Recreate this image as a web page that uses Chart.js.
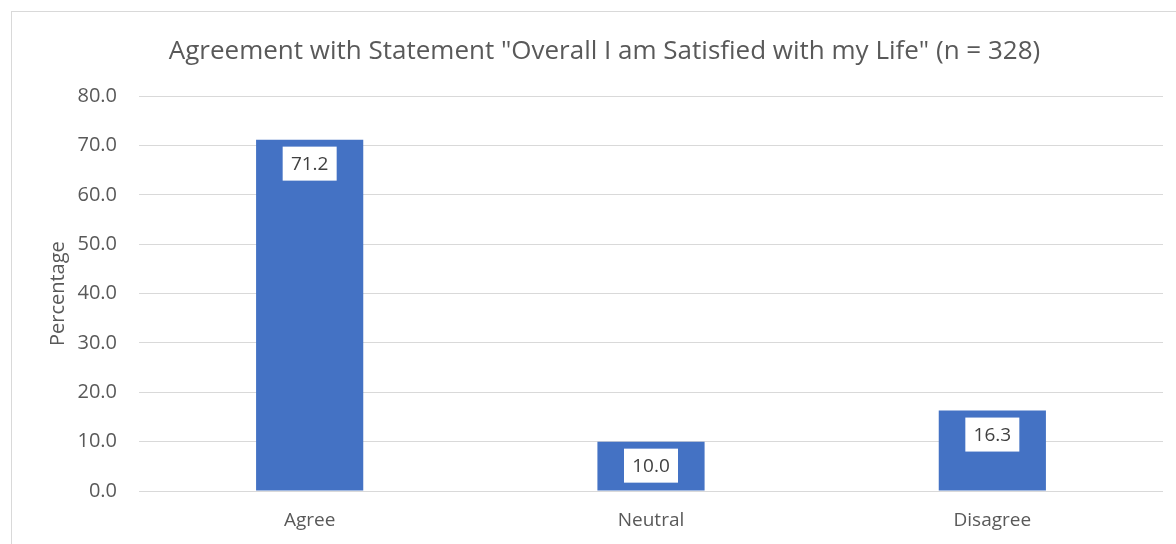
<!DOCTYPE html>
<html>
<head>
<meta charset="utf-8">
<script src="https://cdn.jsdelivr.net/npm/chart.js@4"></script>
<style>
  html, body { margin: 0; padding: 0; background: #fff; }
  #wrap { position: relative; width: 1176px; height: 544px; overflow: hidden; }
  #frame { position: absolute; left: 11px; top: 11px; width: 1200px; height: 600px; border: 1px solid #d9d9d9; }
  canvas { position: absolute; left: 0; top: 0; }
</style>
</head>
<body>
<div id="wrap">
  <div id="frame"></div>
  <canvas id="grafico" width="1176" height="544"></canvas>
</div>
<script>
const categorias = ["Agree", "Neutral", "Disagree"];
const percentuais = [71.2, 10.0, 16.3];
const titulo = 'Agreement with Statement "Overall I am Satisfied with my Life" (n = 328)';
const tituloEixoY = "Percentage";

const fonte = "'Open Sans', 'Liberation Sans', sans-serif";
const corTexto = "#595959";

// Caixinha branca com o valor dentro do topo de cada barra
const rotulosValor = {
    id: "rotulosValor",
    afterDatasetsDraw(chart) {
        const ctx = chart.ctx;
        const meta = chart.getDatasetMeta(0);
        ctx.save();
        ctx.font = "19px " + fonte;
        ctx.textAlign = "center";
        ctx.textBaseline = "middle";
        meta.data.forEach((bar, i) => {
            const texto = percentuais[i].toFixed(1);
            const w = 54, h = 34;
            const x = bar.x - w / 2;
            const y = bar.y + 7;
            ctx.fillStyle = "#ffffff";
            ctx.fillRect(x, y, w, h);
            ctx.fillStyle = "#404040";
            ctx.fillText(texto, bar.x, y + h / 2 + 1);
        });
        ctx.restore();
    }
};

new Chart(document.getElementById("grafico"), {
    type: "bar",
    data: {
        labels: categorias,
        datasets: [{
            data: percentuais,
            backgroundColor: "#4472c4",
            categoryPercentage: 1,
            barPercentage: 0.314
        }]
    },
    options: {
        responsive: false,
        animation: false,
        layout: { padding: { left: 46, right: 13, top: 0, bottom: 13 } },
        plugins: {
            legend: { display: false },
            tooltip: { enabled: false },
            title: {
                display: true,
                text: titulo,
                color: corTexto,
                font: { family: fonte, size: 26, weight: "normal" },
                padding: { top: 36, bottom: 29 }
            }
        },
        scales: {
            x: {
                afterFit(scale) { scale.height = 40; },
                grid: { display: false },
                border: { display: false },
                ticks: {
                    color: corTexto,
                    font: { family: fonte, size: 19 },
                    padding: 10
                }
            },
            y: {
                min: 0,
                max: 80,
                afterFit(scale) { scale.width = 93; },
                grid: { color: "#d9d9d9", drawTicks: false },
                border: { display: false },
                ticks: {
                    stepSize: 10,
                    color: corTexto,
                    font: { family: fonte, size: 20 },
                    padding: 22,
                    callback: v => v.toFixed(1)
                },
                title: {
                    display: true,
                    text: tituloEixoY,
                    color: corTexto,
                    font: { family: fonte, size: 20 },
                    padding: 0
                }
            }
        }
    },
    plugins: [rotulosValor]
});
</script>
</body>
</html>
